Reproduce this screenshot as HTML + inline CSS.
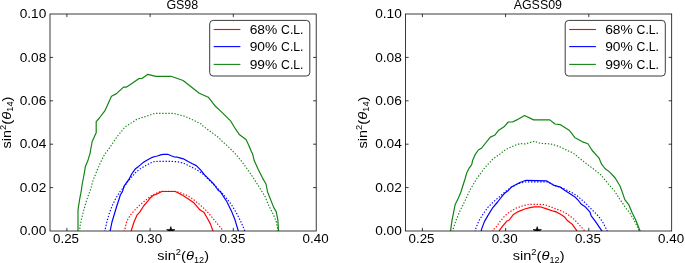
<!DOCTYPE html>
<html><head><meta charset="utf-8"><style>
html,body{margin:0;padding:0;background:#fff;}
svg{display:block;will-change:transform;}
svg{font-family:"Liberation Sans",sans-serif;font-size:12px;}
text{fill:#000;}
</style></head><body>
<svg width="685" height="263" viewBox="0 0 685 263">
<rect width="685" height="263" fill="#fff"/>
<clipPath id="clip0"><rect x="50.0" y="14.0" width="266.2" height="217.0"/></clipPath>
<g clip-path="url(#clip0)" fill="none" stroke-width="1.2" stroke-linejoin="round">
<polyline points="79.8,232.0 79.9,226.8 81.2,220.4 83.6,210.8 86.8,199.6 90.0,190.8 91.0,188.0 92.6,181.6 95.8,173.6 99.8,164.0 104.6,154.4 109.0,148.7 117.0,136.8 124.9,127.2 134.5,120.8 136.6,119.4 154.8,113.4 173.1,113.3 185.2,116.4 201.3,124.0 203.1,126.1 219.3,138.1 222.0,141.2 228.4,146.8 235.8,154.4 241.7,161.4 248.4,170.6 255.1,180.6 261.0,190.0 265.0,196.4 269.0,206.0 273.0,214.0 276.2,221.2 277.8,229.2 278.0,232.0" stroke="#128412" stroke-dasharray="1.35 1.72" stroke-width="1.15"/>
<polyline points="78.0,232.0 78.0,222.0 78.0,210.0 79.6,199.6 81.4,190.0 82.2,184.0 83.8,176.0 84.9,169.6 85.4,166.4 87.8,160.8 90.2,152.8 90.6,150.0 92.2,141.5 96.2,132.8 96.2,121.6 99.4,118.0 104.8,110.9 111.5,96.2 116.5,93.6 123.5,87.1 126.6,87.1 132.6,83.1 138.7,78.7 142.3,78.3 147.9,74.3 155.8,76.3 171.0,76.3 183.1,80.5 199.3,93.2 208.3,97.2 215.4,106.3 222.0,112.4 230.8,121.2 235.6,129.2 239.6,134.8 246.0,139.6 248.4,144.4 251.6,152.0 252.6,153.9 254.2,160.6 258.4,169.8 262.6,178.1 266.0,184.0 267.6,192.0 270.6,199.6 273.8,207.6 276.2,211.6 277.8,219.6 278.6,232.0" stroke="#128412"/>
<polyline points="104.6,232.0 107.2,220.4 109.6,212.4 112.8,204.4 116.0,198.0 120.0,191.6 123.4,187.7 127.2,182.4 131.0,177.8 136.3,171.7 141.6,167.9 146.9,164.9 153.0,161.8 158.0,161.3 169.4,161.3 178.0,161.8 184.1,163.4 190.2,166.4 196.3,169.4 200.8,172.5 204.6,175.5 213.1,184.1 219.8,190.4 225.2,196.6 231.4,204.6 236.8,213.6 241.3,222.5 245.2,232.0" stroke="#0000ff" stroke-dasharray="1.35 1.72" stroke-width="1.15"/>
<polyline points="109.9,232.0 112.0,222.0 114.4,214.0 116.8,206.0 119.2,198.8 120.3,195.0 122.4,191.6 124.1,186.2 129.4,178.6 131.7,174.0 135.5,168.7 138.6,166.4 143.1,162.6 146.9,160.3 152.3,157.3 155.0,156.5 157.4,156.0 161.4,154.6 163.7,154.3 167.7,154.3 171.1,155.7 174.0,156.8 177.4,157.1 178.0,157.3 183.3,158.8 188.6,161.8 192.4,163.8 196.3,165.6 200.8,170.2 204.6,174.8 208.4,178.6 212.2,182.4 214.5,185.0 218.0,190.0 220.7,192.1 227.0,202.0 231.4,210.9 235.0,219.8 238.6,232.0" stroke="#0000ff"/>
<polyline points="124.2,232.0 126.8,221.2 130.0,215.6 134.0,210.8 138.8,206.0 144.4,201.2 150.0,196.6 155.3,193.6 159.9,191.7 162.0,191.3 175.0,191.3 179.6,192.5 185.7,194.7 191.0,197.8 195.6,201.2 198.5,203.5 205.5,209.8 211.1,216.1 216.8,223.2 221.7,228.8 223.0,232.0" stroke="#ff0000" stroke-dasharray="1.35 1.72" stroke-width="1.15"/>
<polyline points="130.8,232.0 134.0,222.0 137.2,214.8 139.6,212.4 143.6,206.0 148.4,200.4 150.0,198.2 153.0,195.5 157.6,193.6 161.8,191.5 175.1,191.5 177.4,192.5 184.2,196.3 189.5,199.7 194.1,203.1 195.6,204.9 199.9,209.8 204.1,212.6 206.9,217.5 210.4,223.9 213.4,232.0" stroke="#ff0000"/>
<polygon points="170.8,226.6 171.8,229.6 175.0,229.6 172.4,231.5 173.4,234.6 170.8,232.7 168.2,234.6 169.2,231.5 166.6,229.6 169.8,229.6" fill="#000" stroke="#000" stroke-width="0.6"/>
</g>
<rect x="50.0" y="14.0" width="266.2" height="217.0" fill="none" stroke="#000" stroke-width="0.77"/>
<path d="M66.90,231.0v-3.1M66.90,14.0v3.1M150.10,231.0v-3.1M150.10,14.0v3.1M233.30,231.0v-3.1M233.30,14.0v3.1M50.0,187.60h3.1M316.2,187.60h-3.1M50.0,144.20h3.1M316.2,144.20h-3.1M50.0,100.80h3.1M316.2,100.80h-3.1M50.0,57.40h3.1M316.2,57.40h-3.1" stroke="#000" stroke-width="0.77" fill="none"/>
<text x="46.30" y="235.25" font-size="12.6" text-anchor="end" textLength="26.6" lengthAdjust="spacingAndGlyphs">0.00</text>
<text x="46.30" y="191.85" font-size="12.6" text-anchor="end" textLength="26.6" lengthAdjust="spacingAndGlyphs">0.02</text>
<text x="46.30" y="148.45" font-size="12.6" text-anchor="end" textLength="26.6" lengthAdjust="spacingAndGlyphs">0.04</text>
<text x="46.30" y="105.05" font-size="12.6" text-anchor="end" textLength="26.6" lengthAdjust="spacingAndGlyphs">0.06</text>
<text x="46.30" y="61.65" font-size="12.6" text-anchor="end" textLength="26.6" lengthAdjust="spacingAndGlyphs">0.08</text>
<text x="46.30" y="18.25" font-size="12.6" text-anchor="end" textLength="26.6" lengthAdjust="spacingAndGlyphs">0.10</text>
<text x="53.00" y="242.50" font-size="12.6" textLength="26.0" lengthAdjust="spacingAndGlyphs">0.25</text>
<text x="136.20" y="242.50" font-size="12.6" textLength="26.0" lengthAdjust="spacingAndGlyphs">0.30</text>
<text x="219.40" y="242.50" font-size="12.6" textLength="26.0" lengthAdjust="spacingAndGlyphs">0.35</text>
<text x="302.60" y="242.50" font-size="12.6" textLength="26.0" lengthAdjust="spacingAndGlyphs">0.40</text>
<text x="166.40" y="9.0" textLength="31.8" lengthAdjust="spacingAndGlyphs">GS98</text>
<text x="157.30" y="260.4" font-size="12.4"><tspan textLength="18.5" lengthAdjust="spacingAndGlyphs">sin</tspan><tspan font-size="8.5" dy="-5.2" textLength="5.2" lengthAdjust="spacingAndGlyphs">2</tspan><tspan dy="5.2" textLength="5" lengthAdjust="spacingAndGlyphs">(</tspan><tspan font-style="italic" textLength="8" lengthAdjust="spacingAndGlyphs">θ</tspan><tspan font-size="9.5" dy="2.7" textLength="10.2" lengthAdjust="spacingAndGlyphs">12</tspan><tspan dy="-2.7" textLength="4.8" lengthAdjust="spacingAndGlyphs">)</tspan></text>
<rect x="209.7" y="20.4" width="100.1" height="55.6" rx="3.5" fill="#fff" stroke="#000" stroke-width="0.77"/>
<path d="M213.70,29.50h26.7" stroke="#ff0000" stroke-width="1.1"/>
<text x="249.70" y="33.90" textLength="27.6" lengthAdjust="spacingAndGlyphs">68%</text>
<text x="281.10" y="33.90" textLength="22.4" lengthAdjust="spacingAndGlyphs">C.L.</text>
<path d="M213.70,46.60h26.7" stroke="#0000ff" stroke-width="1.1"/>
<text x="249.70" y="51.20" textLength="27.6" lengthAdjust="spacingAndGlyphs">90%</text>
<text x="281.10" y="51.20" textLength="22.4" lengthAdjust="spacingAndGlyphs">C.L.</text>
<path d="M213.70,64.40h26.7" stroke="#128412" stroke-width="1.1"/>
<text x="249.70" y="68.50" textLength="27.6" lengthAdjust="spacingAndGlyphs">99%</text>
<text x="281.10" y="68.50" textLength="22.4" lengthAdjust="spacingAndGlyphs">C.L.</text>
<clipPath id="clip355"><rect x="405.5" y="14.0" width="266.20000000000005" height="217.0"/></clipPath>
<g clip-path="url(#clip355)" fill="none" stroke-width="1.2" stroke-linejoin="round">
<polyline points="452.8,232.0 452.8,230.0 456.0,220.4 460.0,210.8 464.8,201.2 469.6,190.8 470.1,189.8 476.8,178.5 484.8,167.7 492.8,159.1 499.7,154.2 505.7,149.4 514.2,145.6 520.2,143.6 525.0,143.9 534.4,141.3 540.4,143.4 550.7,143.9 559.2,146.5 567.8,150.8 570.0,151.4 574.7,154.2 578.5,157.4 587.1,164.2 593.9,169.3 600.8,174.8 608.0,183.6 614.4,190.8 620.0,199.6 624.0,205.2 625.2,207.3 630.1,213.4 634.3,220.7 638.0,228.0 639.5,232.0" stroke="#128412" stroke-dasharray="1.35 1.72" stroke-width="1.15"/>
<polyline points="450.4,232.0 452.0,220.4 453.6,212.4 455.2,204.4 458.4,198.0 460.9,192.0 465.0,179.0 466.7,173.1 469.2,168.1 471.7,164.7 472.6,160.6 475.1,154.7 478.4,150.0 481.7,148.0 490.3,137.1 494.6,135.3 498.8,130.2 504.0,126.8 508.3,122.0 512.5,122.0 516.8,119.9 524.5,115.5 533.6,119.9 549.8,119.9 555.0,124.0 560.1,124.6 569.5,130.5 574.7,137.4 575.1,137.7 582.0,141.6 587.9,143.7 592.2,150.5 599.1,158.2 601.6,164.2 605.0,168.5 610.0,172.4 615.2,178.0 620.0,186.0 622.4,192.4 624.8,199.6 628.9,204.9 631.9,212.2 635.5,219.5 639.8,230.2 640.3,232.0" stroke="#128412"/>
<polyline points="475.0,232.0 475.4,229.6 478.9,220.7 483.4,213.6 487.9,207.3 493.2,202.0 498.6,197.5 505.7,191.3 509.3,188.6 511.5,187.0 519.3,183.4 526.0,181.8 546.4,181.8 550.0,183.0 555.1,185.6 561.2,187.6 565.3,189.3 568.4,190.9 571.4,192.4 577.1,195.7 584.3,202.0 591.4,209.1 598.6,216.3 603.0,222.5 606.6,229.6 607.4,232.0" stroke="#0000ff" stroke-dasharray="1.35 1.72" stroke-width="1.15"/>
<polyline points="481.2,232.0 481.4,229.6 484.4,221.6 488.0,215.4 492.4,208.2 497.6,202.0 502.6,195.7 505.0,192.9 508.4,190.4 511.1,187.3 519.3,182.7 526.0,180.3 546.4,180.8 553.3,185.1 560.5,187.2 564.6,190.3 570.0,193.8 574.9,196.9 578.0,200.0 581.4,204.3 585.1,206.7 590.0,212.2 591.2,215.8 595.4,221.3 601.5,230.4 602.5,232.0" stroke="#0000ff"/>
<polyline points="492.8,232.0 493.2,229.6 495.6,227.7 500.2,221.3 504.7,216.1 509.2,212.2 515.7,208.3 522.8,205.8 528.6,204.5 533.8,204.3 540.0,204.4 545.0,204.7 549.2,206.4 555.1,208.5 560.1,210.5 565.1,212.7 570.6,216.5 573.5,218.9 577.2,222.5 583.9,229.8 585.0,232.0" stroke="#ff0000" stroke-dasharray="1.35 1.72" stroke-width="1.15"/>
<polyline points="499.3,232.0 499.5,230.3 502.8,225.8 506.6,221.3 509.2,220.0 513.1,214.8 518.3,211.6 524.7,209.0 530.0,207.6 534.2,206.8 540.0,206.8 546.7,208.9 553.4,211.2 556.8,212.2 561.8,215.1 565.1,217.6 566.8,220.0 569.9,222.5 572.3,224.3 576.6,230.4 577.4,232.0" stroke="#ff0000"/>
<polygon points="537.2,226.6 538.2,229.6 541.4,229.6 538.8,231.5 539.8,234.6 537.2,232.7 534.6,234.6 535.6,231.5 533.0,229.6 536.2,229.6" fill="#000" stroke="#000" stroke-width="0.6"/>
</g>
<rect x="405.5" y="14.0" width="266.20000000000005" height="217.0" fill="none" stroke="#000" stroke-width="0.77"/>
<path d="M422.40,231.0v-3.1M422.40,14.0v3.1M505.60,231.0v-3.1M505.60,14.0v3.1M588.80,231.0v-3.1M588.80,14.0v3.1M405.5,187.60h3.1M671.7,187.60h-3.1M405.5,144.20h3.1M671.7,144.20h-3.1M405.5,100.80h3.1M671.7,100.80h-3.1M405.5,57.40h3.1M671.7,57.40h-3.1" stroke="#000" stroke-width="0.77" fill="none"/>
<text x="401.80" y="235.25" font-size="12.6" text-anchor="end" textLength="26.6" lengthAdjust="spacingAndGlyphs">0.00</text>
<text x="401.80" y="191.85" font-size="12.6" text-anchor="end" textLength="26.6" lengthAdjust="spacingAndGlyphs">0.02</text>
<text x="401.80" y="148.45" font-size="12.6" text-anchor="end" textLength="26.6" lengthAdjust="spacingAndGlyphs">0.04</text>
<text x="401.80" y="105.05" font-size="12.6" text-anchor="end" textLength="26.6" lengthAdjust="spacingAndGlyphs">0.06</text>
<text x="401.80" y="61.65" font-size="12.6" text-anchor="end" textLength="26.6" lengthAdjust="spacingAndGlyphs">0.08</text>
<text x="401.80" y="18.25" font-size="12.6" text-anchor="end" textLength="26.6" lengthAdjust="spacingAndGlyphs">0.10</text>
<text x="408.50" y="242.50" font-size="12.6" textLength="26.0" lengthAdjust="spacingAndGlyphs">0.25</text>
<text x="491.70" y="242.50" font-size="12.6" textLength="26.0" lengthAdjust="spacingAndGlyphs">0.30</text>
<text x="574.90" y="242.50" font-size="12.6" textLength="26.0" lengthAdjust="spacingAndGlyphs">0.35</text>
<text x="658.10" y="242.50" font-size="12.6" textLength="26.0" lengthAdjust="spacingAndGlyphs">0.40</text>
<text x="513.70" y="9.0" textLength="48.3" lengthAdjust="spacingAndGlyphs">AGSS09</text>
<text x="512.80" y="260.4" font-size="12.4"><tspan textLength="18.5" lengthAdjust="spacingAndGlyphs">sin</tspan><tspan font-size="8.5" dy="-5.2" textLength="5.2" lengthAdjust="spacingAndGlyphs">2</tspan><tspan dy="5.2" textLength="5" lengthAdjust="spacingAndGlyphs">(</tspan><tspan font-style="italic" textLength="8" lengthAdjust="spacingAndGlyphs">θ</tspan><tspan font-size="9.5" dy="2.7" textLength="10.2" lengthAdjust="spacingAndGlyphs">12</tspan><tspan dy="-2.7" textLength="4.8" lengthAdjust="spacingAndGlyphs">)</tspan></text>
<rect x="565.2" y="20.4" width="100.1" height="55.6" rx="3.5" fill="#fff" stroke="#000" stroke-width="0.77"/>
<path d="M569.20,29.50h26.7" stroke="#ff0000" stroke-width="1.1"/>
<text x="605.20" y="33.90" textLength="27.6" lengthAdjust="spacingAndGlyphs">68%</text>
<text x="636.60" y="33.90" textLength="22.4" lengthAdjust="spacingAndGlyphs">C.L.</text>
<path d="M569.20,46.60h26.7" stroke="#0000ff" stroke-width="1.1"/>
<text x="605.20" y="51.20" textLength="27.6" lengthAdjust="spacingAndGlyphs">90%</text>
<text x="636.60" y="51.20" textLength="22.4" lengthAdjust="spacingAndGlyphs">C.L.</text>
<path d="M569.20,64.40h26.7" stroke="#128412" stroke-width="1.1"/>
<text x="605.20" y="68.50" textLength="27.6" lengthAdjust="spacingAndGlyphs">99%</text>
<text x="636.60" y="68.50" textLength="22.4" lengthAdjust="spacingAndGlyphs">C.L.</text>
<text transform="translate(11.2,123.2) rotate(-90)" x="-25.2" y="0" font-size="12.4"><tspan textLength="18.5" lengthAdjust="spacingAndGlyphs">sin</tspan><tspan font-size="8.5" dy="-5.2" textLength="5.2" lengthAdjust="spacingAndGlyphs">2</tspan><tspan dy="5.2" textLength="5" lengthAdjust="spacingAndGlyphs">(</tspan><tspan font-style="italic" textLength="8" lengthAdjust="spacingAndGlyphs">θ</tspan><tspan font-size="9.5" dy="2.2" textLength="10.2" lengthAdjust="spacingAndGlyphs">14</tspan><tspan dy="-2.2" textLength="4.8" lengthAdjust="spacingAndGlyphs">)</tspan></text>
<text transform="translate(366.7,123.2) rotate(-90)" x="-25.2" y="0" font-size="12.4"><tspan textLength="18.5" lengthAdjust="spacingAndGlyphs">sin</tspan><tspan font-size="8.5" dy="-5.2" textLength="5.2" lengthAdjust="spacingAndGlyphs">2</tspan><tspan dy="5.2" textLength="5" lengthAdjust="spacingAndGlyphs">(</tspan><tspan font-style="italic" textLength="8" lengthAdjust="spacingAndGlyphs">θ</tspan><tspan font-size="9.5" dy="2.2" textLength="10.2" lengthAdjust="spacingAndGlyphs">14</tspan><tspan dy="-2.2" textLength="4.8" lengthAdjust="spacingAndGlyphs">)</tspan></text>
</svg>
</body></html>
